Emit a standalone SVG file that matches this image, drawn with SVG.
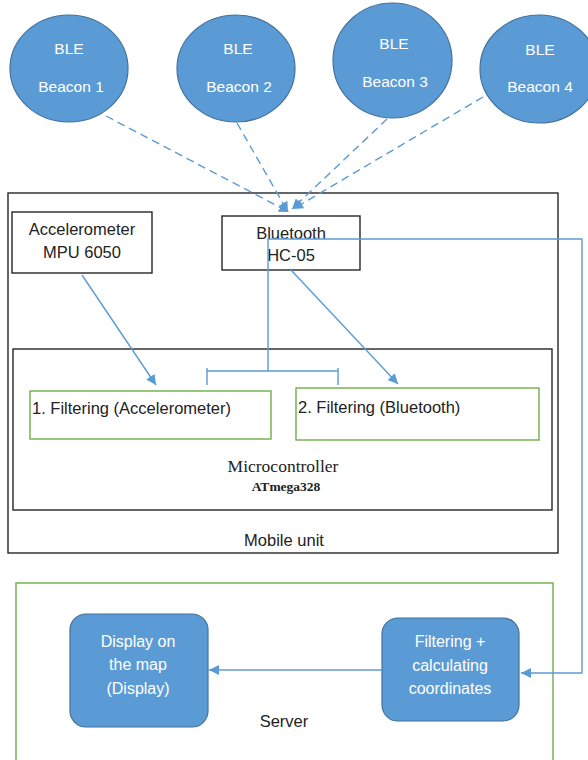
<svg xmlns="http://www.w3.org/2000/svg" width="588" height="760" viewBox="0 0 588 760">
<defs>
<style>
.beacon{fill:#5B9BD5;stroke:#41719C;stroke-width:1.2}
.wt{fill:#ffffff;font-family:"Liberation Sans",Arial,sans-serif;font-size:15.5px;text-anchor:middle}
.bt{fill:#ffffff;font-family:"Liberation Sans",Arial,sans-serif;font-size:16px;text-anchor:middle}
.kt{fill:#222222;font-family:"Liberation Sans",Arial,sans-serif;font-size:16.5px}
.st{fill:#222222;font-family:"Liberation Serif","Times New Roman",serif;text-anchor:middle}
.box{fill:#ffffff;stroke:#262626;stroke-width:1.4}
.frame{fill:none;stroke:#262626;stroke-width:1.4}
.green{fill:none;stroke:#70AD47;stroke-width:1.4}
.rbox{fill:#5B9BD5;stroke:#41719C;stroke-width:1.2}
.ln{fill:none;stroke:#5B9BD5;stroke-width:1.4}
.dash{fill:none;stroke:#5B9BD5;stroke-width:1.4;stroke-dasharray:8 5}
</style>
<marker id="ah" viewBox="0 0 10 10" refX="10" refY="5" markerWidth="10" markerHeight="10" markerUnits="userSpaceOnUse" orient="auto">
<path d="M0,0 L10,5 L0,10 z" fill="#5B9BD5"/>
</marker>
</defs>
<rect width="588" height="760" fill="#ffffff"/>

<g id="mobile-unit">
<rect class="frame" x="8" y="193" width="550" height="360"/>
<text class="kt" x="284" y="546" text-anchor="middle">Mobile unit</text>
</g>

<g id="server">
<rect class="green" x="16" y="583" width="537" height="190"/>
<text class="kt" x="284" y="727" text-anchor="middle">Server</text>
</g>

<g id="beacon1">
<ellipse class="beacon" cx="69" cy="68.5" rx="59" ry="53.5"/>
<text class="wt" x="69" y="54">BLE</text>
<text class="wt" x="71" y="92">Beacon 1</text>
</g>
<g id="beacon2">
<ellipse class="beacon" cx="236" cy="68.5" rx="59" ry="53.5"/>
<text class="wt" x="238" y="54">BLE</text>
<text class="wt" x="239" y="92">Beacon 2</text>
</g>
<g id="beacon3">
<ellipse class="beacon" cx="392.5" cy="60.5" rx="59.5" ry="57.5"/>
<text class="wt" x="394" y="49">BLE</text>
<text class="wt" x="395" y="87">Beacon 3</text>
</g>
<g id="beacon4">
<ellipse class="beacon" cx="539" cy="69" rx="59" ry="54"/>
<text class="wt" x="540" y="55">BLE</text>
<text class="wt" x="540" y="92">Beacon 4</text>
</g>

<g id="accelerometer">
<rect class="box" x="12" y="212" width="140" height="61"/>
<text class="kt" x="82" y="235" text-anchor="middle">Accelerometer</text>
<text class="kt" x="82" y="258" text-anchor="middle">MPU 6050</text>
</g>

<g id="bluetooth">
<rect class="box" x="222" y="216" width="138" height="54"/>
<text class="kt" x="291" y="239" text-anchor="middle">Bluetooth</text>
<text class="kt" x="291" y="261" text-anchor="middle">HC-05</text>
</g>

<g id="microcontroller">
<rect class="frame" x="13" y="349" width="539" height="161"/>
<text class="st" x="283" y="472" font-size="17.5px">Microcontroller</text>
<text class="st" x="286" y="491" font-size="13.5px" font-weight="bold">ATmega328</text>
</g>

<g id="filtering1">
<rect class="green" x="30" y="391" width="241" height="48"/>
<text class="kt" x="32" y="414">1. Filtering (Accelerometer)</text>
</g>

<g id="filtering2">
<rect class="green" x="296" y="388" width="243" height="52"/>
<text class="kt" x="298" y="413">2. Filtering (Bluetooth)</text>
</g>

<g id="display">
<rect class="rbox" x="70" y="614" width="138" height="113" rx="16" ry="16"/>
<text class="bt" x="138" y="647">Display on</text>
<text class="bt" x="138" y="670">the map</text>
<text class="bt" x="138" y="694">(Display)</text>
</g>

<g id="filtering-server">
<rect class="rbox" x="382" y="618" width="137" height="103" rx="16" ry="16"/>
<text class="bt" x="450" y="647">Filtering +</text>
<text class="bt" x="450" y="671">calculating</text>
<text class="bt" x="450" y="694">coordinates</text>
</g>

<g id="connectors">
<line class="dash" x1="106" y1="116" x2="289" y2="212" marker-end="url(#ah)"/>
<line class="dash" x1="237" y1="123" x2="288" y2="212" marker-end="url(#ah)"/>
<line class="dash" x1="387" y1="119" x2="292" y2="209" marker-end="url(#ah)"/>
<line class="dash" x1="483" y1="97" x2="293" y2="209" marker-end="url(#ah)"/>
<line class="ln" x1="82" y1="275" x2="156" y2="385" marker-end="url(#ah)"/>
<line class="ln" x1="291" y1="270" x2="398" y2="384" marker-end="url(#ah)"/>
<path class="ln" d="M207,385 V368 M207,371 H338 M338,368 V385"/>
<path class="ln" d="M268,371 V239 H582 V673 H521" marker-end="url(#ah)"/>
<line class="ln" x1="382" y1="670" x2="209" y2="670" marker-end="url(#ah)"/>
</g>
</svg>
